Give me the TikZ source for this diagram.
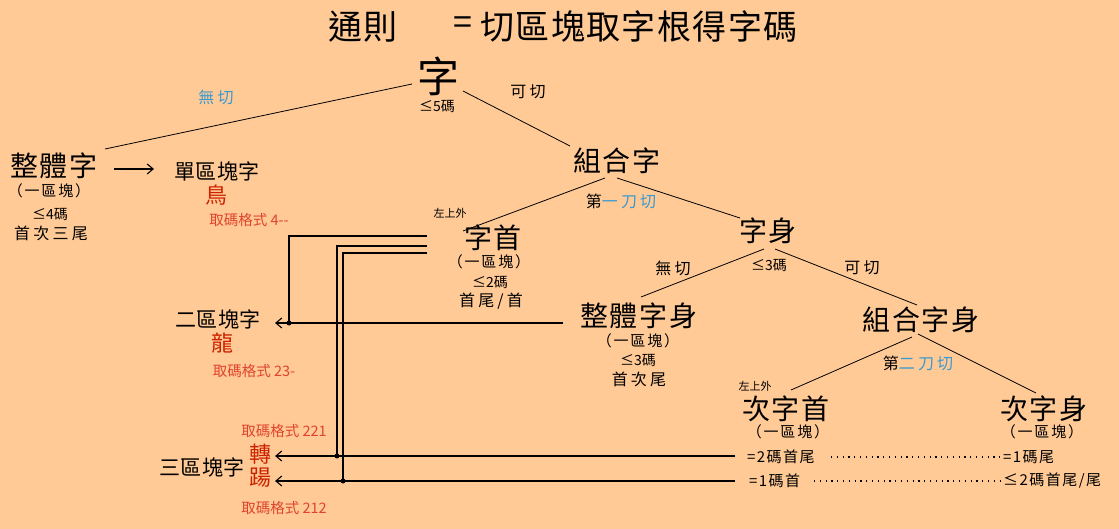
\documentclass[tikz,border=0pt]{standalone}
\usepackage{fontspec}
\setmainfont{Noto Sans CJK TC}
\usetikzlibrary{arrows.meta}
\definecolor{bg}{HTML}{FFCA96}
\definecolor{cblue}{HTML}{3A9AD0}
\definecolor{cred}{HTML}{CC2200}
\definecolor{lred}{HTML}{E0442E}
\newcommand\fsz[2]{\fontsize{#1}{#1}\selectfont\addfontfeature{LetterSpace=#2}}
\tikzset{
  every node/.style={inner sep=0pt, outer sep=0pt},
  ttl/.style={font=\fsz{34}{4}},
  root/.style={font=\fsz{42}{0}},
  main/.style={font=\fsz{28}{7}},
  sub/.style={font=\fsz{15}{12}},
  sube/.style={font=\fsz{15}{10}},
  small/.style={font=\fsz{16}{20}},
  code/.style={font=\fsz{14}{0}},
  tiny/.style={font=\fsz{11}{0}},
  lbl/.style={font=\fsz{21}{2}},
  red/.style={font=\fsz{22}{0}, text=cred},
  fmt/.style={font=\fsz{14.5}{0}, text=lred},
  edge/.style={line width=0.8pt},
  conn/.style={line width=1.3pt},
  arr/.style={line width=1.1pt, -{Straight Barb[length=6pt,width=10pt]}},
  dot/.style={circle, fill=black, minimum size=5pt},
  dots/.style={line width=1.2pt, dash pattern=on 1.2pt off 4.6pt}
}
\begin{document}
\begin{tikzpicture}[x=1pt,y=-1pt]
\fill[bg] (0,0) rectangle (1119,529);
\useasboundingbox (0,0) rectangle (1119,529);
% title
\node[ttl] (t1) at (363,27) {通則};
\node[ttl] (t2) at (463,26) {=};
\node[ttl] (t3) at (639,27) {切區塊取字根得字碼};
% root
\node[root] (zi) at (438,76) {字};
\node[code] (zi5) at (437,106) {≤5碼};
\node[small, text=cblue] (wq1) at (216,97) {無切};
\node[small] (kq1) at (528,92) {可切};
% whole char
\node[main] (ztz) at (54,166) {整體字};
\node[sub] (ztz1) at (49,191) {（一區塊）};
\node[code] (ztz2) at (50,214) {≤4碼};
\node[small] (ztz3) at (51,233) {首次三尾};
\node[lbl] (dan) at (217,171) {單區塊字};
\node[red] (niao) at (216,195) {鳥};
\node[fmt] (f4) at (249,220) {取碼格式 4{-}{-}};
% compound
\node[main] (zhz) at (617,161) {組合字};
\node[small] (cut1) at (621,201) {第\textcolor{cblue}{一刀切}};
\node[tiny] (zsw1) at (450,213) {左上外};
\node[main] (zs) at (493,238) {字首};
\node[sub] (zs1) at (489,262) {（一區塊）};
\node[code] (zs2) at (490,282) {≤2碼};
\node[small] (zs3) at (491,301) {首尾/首};
\node[main] (zsh) at (768,231) {字身};
\node[small] (wq2) at (673,268) {無切};
\node[code] (zsh3) at (769,265) {≤3碼};
\node[small] (kq2) at (862,268) {可切};
\node[main] (ztzs) at (639,316) {整體字身};
\node[sub] (ztzs1) at (638,341) {（一區塊）};
\node[code] (ztzs2) at (638,360) {≤3碼};
\node[small] (ztzs3) at (639,379) {首次尾};
\node[main] (zhzs) at (921,320) {組合字身};
\node[small] (cut2) at (918,363) {第\textcolor{cblue}{二刀切}};
\node[tiny] (zsw2) at (755,386) {左上外};
\node[main] (czs) at (786,409) {次字首};
\node[sub] (czs1) at (788,432) {（一區塊）};
\node[main] (czsh) at (1044,409) {次字身};
\node[sub] (czsh1) at (1042,432) {（一區塊）};
\node[sube, anchor=west] (c1) at (747,457) {=2碼首尾};
\node[sube, anchor=west] (c2) at (1003,457) {=1碼尾};
\node[sube, anchor=west] (c3) at (749,481) {=1碼首};
\node[sube, anchor=west] (c4) at (1003,481) {≤2碼首尾/尾};
% left results
\node[lbl] (erq) at (218,319) {二區塊字};
\node[red] (long) at (222,343) {龍};
\node[fmt] (f23) at (254,371) {取碼格式 23-};
\node[fmt] (f221) at (284,431) {取碼格式 221};
\node[red] (zhuan) at (260,454) {轉};
\node[red] (ti) at (260,478) {踼};
\node[lbl] (sanq) at (202,467) {三區塊字};
\node[fmt] (f212) at (284,508) {取碼格式 212};
% tree edges
\coordinate (e1a) at (412,84); \coordinate (e1b) at (105,149);
\coordinate (e2a) at (463,91); \coordinate (e2b) at (570,146);
\coordinate (e3a) at (605,178); \coordinate (e3b) at (463,231);
\coordinate (e4a) at (617,178); \coordinate (e4b) at (740,218);
\coordinate (e5a) at (764,249); \coordinate (e5b) at (641,297);
\coordinate (e6a) at (775,249); \coordinate (e6b) at (917,305);
\coordinate (e7a) at (912,337); \coordinate (e7b) at (791,390);
\coordinate (e8a) at (918,334); \coordinate (e8b) at (1036,393);
\draw[edge] (e1a) -- (e1b);
\draw[edge] (e2a) -- (e2b);
\draw[edge] (e3a) -- (e3b);
\draw[edge] (e4a) -- (e4b);
\draw[edge] (e5a) -- (e5b);
\draw[edge] (e6a) -- (e6b);
\draw[edge] (e7a) -- (e7b);
\draw[edge] (e8a) -- (e8b);
% arrow whole -> single block
\coordinate (a1) at (114,169); \coordinate (a2) at (154,169);
\draw[arr] (a1) -- (a2);
% dotted
\coordinate (d1a) at (831,457); \coordinate (d1b) at (1002,457);
\coordinate (d2a) at (814,481); \coordinate (d2b) at (1002,481);
\draw[dots] (d1a) -- (d1b);
\draw[dots] (d2a) -- (d2b);
% connectors
\coordinate (j1) at (289,323);
\coordinate (j2) at (337,456);
\coordinate (j3) at (343,481);
\coordinate (ztzsL) at (563,323);
\coordinate (zsA) at (427,236);
\coordinate (zsB) at (427,246);
\coordinate (zsC) at (427,253);
\coordinate (czsA) at (735,456);
\coordinate (czsB) at (735,481);
\coordinate (t2q) at (275,323);
\coordinate (t3a) at (275,456);
\coordinate (t3b) at (275,481);
\draw[conn] (zsA) -| (j1);
\draw[conn] (zsB) -| (j2);
\draw[conn] (zsC) -| (j3);
\draw[conn] (ztzsL) -- (j1);
\draw[conn] (czsA) -- (j2);
\draw[conn] (czsB) -- (j3);
\draw[arr] (j1) -- (t2q);
\draw[arr] (j2) -- (t3a);
\draw[arr] (j3) -- (t3b);
\node[dot] at (j1) {};
\node[dot] at (j2) {};
\node[dot] at (j3) {};
\end{tikzpicture}
\end{document}
